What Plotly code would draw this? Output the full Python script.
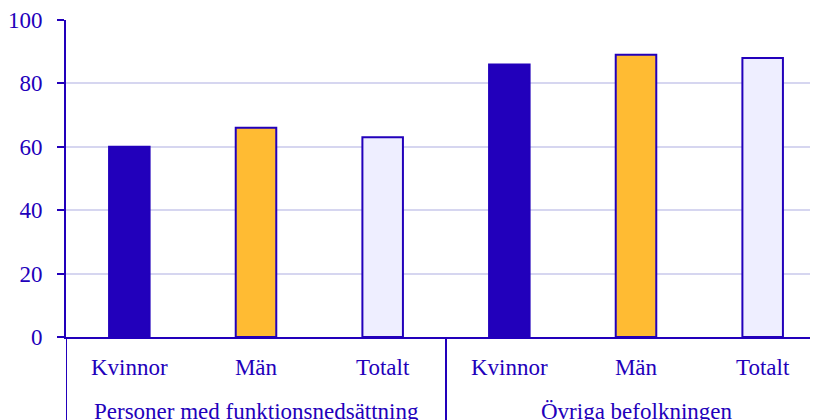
import plotly.graph_objects as go

groups = ["Personer med funktionsnedsättning"] * 3 + ["Övriga befolkningen"] * 3
cats = ["Kvinnor", "Män", "Totalt", "Kvinnor", "Män", "Totalt"]
values = [60, 66, 63, 86, 89, 88]
fills = ["#2200bb", "#ffbb33", "#eeeeff", "#2200bb", "#ffbb33", "#eeeeff"]

BLUE = "#2200bb"
FONT = "Liberation Serif"
FS = 23

xpos = list(range(len(cats)))

fig = go.Figure(go.Bar(
    x=xpos, y=values,
    marker=dict(color=fills, line=dict(color=BLUE, width=2)),
    width=0.32,
))

# group labels and dividers
group_names = []
for g in groups:
    if g not in group_names:
        group_names.append(g)
boundaries = [-0.5]
for name in group_names:
    idx = [i for i, g in enumerate(groups) if g == name]
    center = sum(idx) / len(idx)
    fig.add_annotation(x=center, xref="x", y=-0.235, yref="paper", text=name,
                       showarrow=False, yanchor="middle",
                       font=dict(family=FONT, size=FS, color=BLUE))
    boundaries.append(max(idx) + 0.5)
for b in boundaries:
    fig.add_shape(type="line", xref="x", yref="paper", x0=b, x1=b, y0=0, y1=-0.4,
                  line=dict(color=BLUE, width=2))

fig.update_layout(
    width=818, height=420,
    margin=dict(l=58, r=0, t=12, b=91),
    plot_bgcolor="white", paper_bgcolor="white",
    showlegend=False,
    font=dict(family=FONT, size=FS, color=BLUE),
)
fig.update_yaxes(
    range=[0, 100], dtick=20, showgrid=True, gridcolor="#d6d6f0", gridwidth=2,
    showline=True, linecolor=BLUE, linewidth=2, ticks="outside", ticklen=7,
    tickwidth=2, tickcolor=BLUE, zeroline=False, automargin=False,
    tickfont=dict(family=FONT, size=FS, color=BLUE), ticklabelstandoff=10,
)
fig.update_xaxes(
    range=[-0.5, 5.5], tickvals=xpos, ticktext=cats, automargin=False,
    showline=True, linecolor=BLUE, linewidth=2, ticks="", showgrid=False,
    tickfont=dict(family=FONT, size=FS, color=BLUE), ticklabelstandoff=8,
)

fig.write_html("out.html")
